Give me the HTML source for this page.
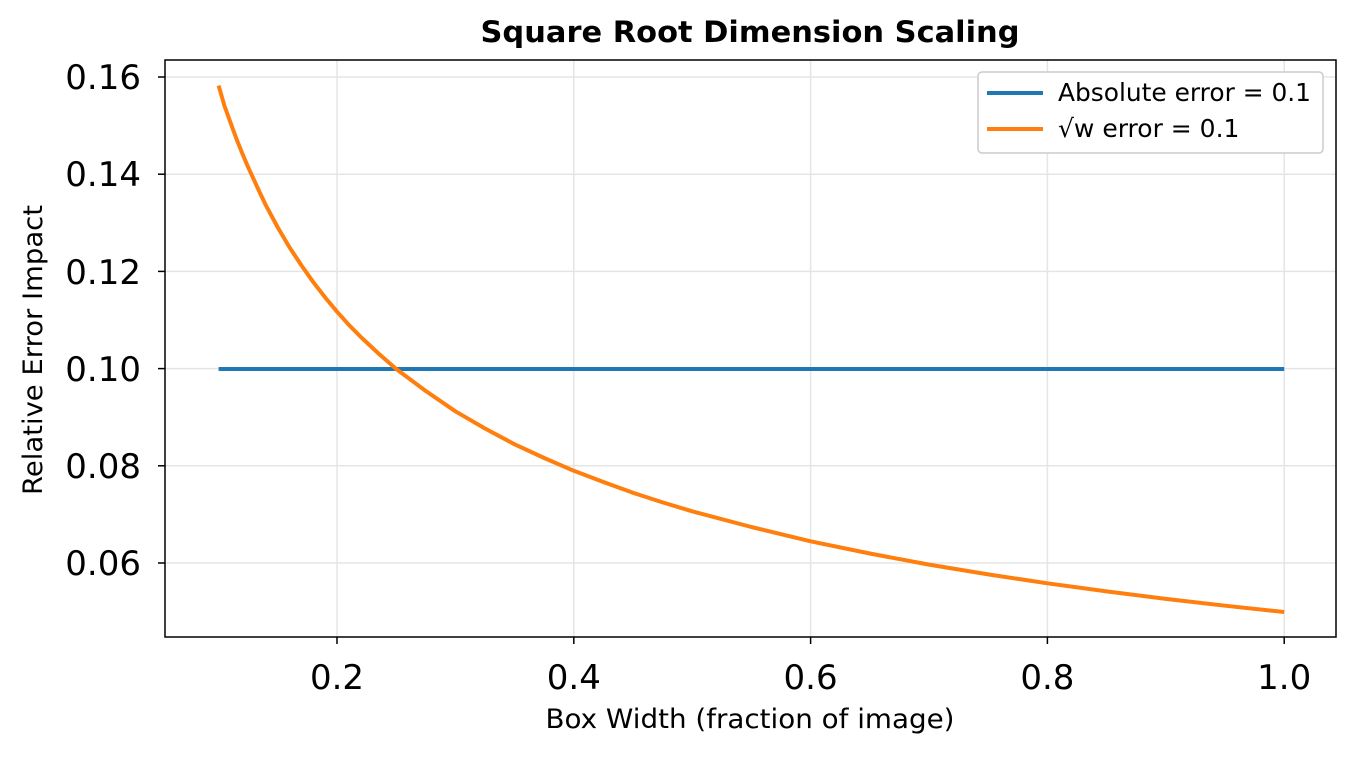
<!DOCTYPE html>
<html><head><meta charset="utf-8"><style>body{margin:0;background:#fff}</style></head>
<body>
<svg width="1355" height="755" xmlns="http://www.w3.org/2000/svg" font-family="'DejaVu Sans','Liberation Sans',sans-serif">
<rect width="1355" height="755" fill="#fff"/>
<g stroke="#e5e5e5" stroke-width="1.5">
<line x1="337" y1="60" x2="337" y2="637"/><line x1="573.8" y1="60" x2="573.8" y2="637"/>
<line x1="810.6" y1="60" x2="810.6" y2="637"/><line x1="1047.4" y1="60" x2="1047.4" y2="637"/>
<line x1="1284.2" y1="60" x2="1284.2" y2="637"/>
<line x1="165" y1="77" x2="1336" y2="77"/><line x1="165" y1="174.2" x2="1336" y2="174.2"/>
<line x1="165" y1="271.4" x2="1336" y2="271.4"/><line x1="165" y1="368.6" x2="1336" y2="368.6"/>
<line x1="165" y1="465.8" x2="1336" y2="465.8"/><line x1="165" y1="563" x2="1336" y2="563"/>
</g>
<line x1="218.6" y1="369" x2="1284.2" y2="369" stroke="#1f77b4" stroke-width="4"/>
<polyline fill="none" stroke="#ff7f0e" stroke-width="4" stroke-linejoin="round" points="218.6,85.6 224.5,106 230.4,122.3 236.3,138.5 242.3,153.5 248.2,167.3 254.1,180.2 260,193 266,205.6 277.8,227.5 289.6,247.5 301.5,265.5 313.3,282.2 325.2,297.5 337,311.7 348.8,324.8 360.7,336.9 378.5,353.5 396.2,369 425.8,391 455.4,411.3 485,428.5 514.6,444.3 544.2,458 573.8,470.8 603.4,482 633,492.8 662.6,502.4 692.2,511.3 751.4,527 810.6,541.3 869.8,553.5 929,564.6 988.2,574.4 1047.4,583.3 1106.6,591.4 1165.8,598.9 1225,605.7 1284.2,612"/>
<rect x="165" y="60" width="1171" height="577" fill="none" stroke="#000" stroke-width="1.5"/>
<g stroke="#000" stroke-width="1.5">
<line x1="337" y1="637" x2="337" y2="644"/><line x1="573.8" y1="637" x2="573.8" y2="644"/>
<line x1="810.6" y1="637" x2="810.6" y2="644"/><line x1="1047.4" y1="637" x2="1047.4" y2="644"/>
<line x1="1284.2" y1="637" x2="1284.2" y2="644"/>
<line x1="158" y1="77" x2="165" y2="77"/><line x1="158" y1="174.2" x2="165" y2="174.2"/>
<line x1="158" y1="271.4" x2="165" y2="271.4"/><line x1="158" y1="368.6" x2="165" y2="368.6"/>
<line x1="158" y1="465.8" x2="165" y2="465.8"/><line x1="158" y1="563" x2="165" y2="563"/>
</g>
<g font-size="34" fill="#000" text-anchor="middle">
<text x="337" y="689">0.2</text><text x="573.8" y="689">0.4</text><text x="810.6" y="689">0.6</text>
<text x="1047.4" y="689">0.8</text><text x="1284.2" y="689">1.0</text>
</g>
<g font-size="34" fill="#000" text-anchor="end">
<text x="141" y="89">0.16</text><text x="141" y="186">0.14</text><text x="141" y="284">0.12</text>
<text x="141" y="381">0.10</text><text x="141" y="478">0.08</text><text x="141" y="575">0.06</text>
</g>
<text x="750" y="42" font-size="29" font-weight="bold" text-anchor="middle" textLength="539" lengthAdjust="spacingAndGlyphs">Square Root Dimension Scaling</text>
<text x="750" y="728" font-size="27" text-anchor="middle" textLength="409" lengthAdjust="spacingAndGlyphs">Box Width (fraction of image)</text>
<text transform="translate(42,350) rotate(-90)" font-size="27" text-anchor="middle" textLength="290" lengthAdjust="spacingAndGlyphs">Relative Error Impact</text>
<rect x="978" y="72" width="345" height="81" rx="4" fill="#fff" stroke="#ccc" stroke-width="1.5"/>
<line x1="987" y1="93" x2="1043" y2="93" stroke="#1f77b4" stroke-width="4"/>
<line x1="987" y1="129" x2="1043" y2="129" stroke="#ff7f0e" stroke-width="4"/>
<text x="1058" y="101" font-size="25" textLength="253" lengthAdjust="spacingAndGlyphs">Absolute error = 0.1</text>
<text x="1058" y="137" font-size="25">√w error = 0.1</text>
</svg>
</body></html>
